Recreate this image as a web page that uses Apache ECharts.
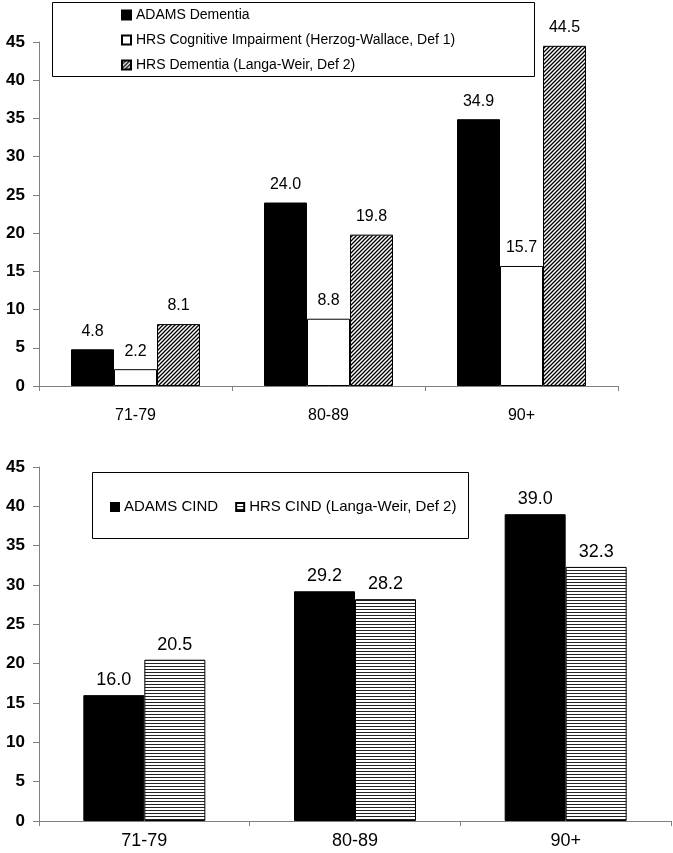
<!DOCTYPE html>
<html><head><meta charset="utf-8">
<script src="https://cdn.jsdelivr.net/npm/echarts@6/dist/echarts.min.js"></script>
<style>html,body{margin:0;padding:0;background:#fff}#c{width:673px;height:853px}</style>
</head><body><div id="c"></div><script>
// ---- data ----
const categories = ['71-79', '80-89', '90+'];
const topNames = ['ADAMS Dementia', 'HRS Cognitive Impairment (Herzog-Wallace, Def 1)', 'HRS Dementia (Langa-Weir, Def 2)'];
const adamsDementia = [4.8, 24.0, 34.9];
const hrsCogImpair = [2.2, 8.8, 15.7];
const hrsDementia = [8.1, 19.8, 44.5];
const bottomNames = ['ADAMS CIND', 'HRS CIND (Langa-Weir, Def 2)'];
const adamsCind = [16.0, 29.2, 39.0];
const hrsCind = [20.5, 28.2, 32.3];
const yMin = 0, yMax = 45, yStep = 5;

// ---- patterns ----
function hatch() {
  const c = document.createElement('canvas'); c.width = 4; c.height = 4;
  const g = c.getContext('2d');
  g.fillStyle = '#fff'; g.fillRect(0, 0, 4, 4);
  g.strokeStyle = '#000'; g.lineWidth = 1.3;
  g.beginPath();
  g.moveTo(-1, 5); g.lineTo(5, -1);
  g.moveTo(-1, 1); g.lineTo(1, -1);
  g.moveTo(3, 5); g.lineTo(5, 3);
  g.stroke();
  return c;
}
function stripes() {
  const c = document.createElement('canvas'); c.width = 4; c.height = 3;
  const g = c.getContext('2d');
  g.fillStyle = '#fff'; g.fillRect(0, 0, 4, 3);
  g.fillStyle = '#222'; g.fillRect(0, 0, 4, 1);
  return c;
}
const hatchFill = { image: hatch(), repeat: 'repeat' };
const stripeFill = { image: stripes(), repeat: 'repeat' };

const FONT = '"Liberation Sans", Arial, sans-serif';
const axisGray = '#808080';

function yAxis(gi) {
  return {
    gridIndex: gi, type: 'value', min: yMin, max: yMax, interval: yStep,
    axisLine: { show: true, lineStyle: { color: axisGray, width: 1 } },
    axisTick: { show: true, length: 6, lineStyle: { color: axisGray } },
    axisLabel: { fontFamily: FONT, fontSize: 17, fontWeight: 'bold', color: '#000', margin: 14 },
    splitLine: { show: false }
  };
}
function xAxis(gi, fs, margin) {
  return {
    gridIndex: gi, type: 'category', data: categories,
    axisLine: { show: true, lineStyle: { color: axisGray, width: 1 } },
    axisTick: { show: true, length: 5, lineStyle: { color: axisGray } },
    axisLabel: { fontFamily: FONT, fontSize: fs, color: '#000', margin: margin }
  };
}
function labelCfg(fs, dist) {
  return { show: true, position: 'top', distance: dist, fontFamily: FONT, fontSize: fs, color: '#000',
    formatter: p => Number(p.value).toFixed(1) };
}

const chart = echarts.init(document.getElementById('c'), null, { renderer: 'canvas' });
chart.setOption({
  animation: false,
  backgroundColor: '#fff',
  grid: [
    { left: 39, right: 55, top: 42, bottom: 467 },
    { left: 39, right: 2, top: 467, bottom: 32 }
  ],
  xAxis: [xAxis(0, 16, 22), xAxis(1, 18, 11)],
  yAxis: [yAxis(0), yAxis(1)],
  graphic: [
    { type: 'rect', z: 5, shape: { x: 52.5, y: 2.5, width: 482, height: 74 },
      style: { fill: '#fff', stroke: '#000', lineWidth: 1 } },
    { type: 'rect', z: 5, shape: { x: 92.5, y: 472.5, width: 376, height: 66 },
      style: { fill: '#fff', stroke: '#000', lineWidth: 1 } }
  ],
  legend: [
    { data: topNames, orient: 'vertical', left: 116, top: 2, z: 10,
      itemWidth: 9, itemHeight: 9, itemGap: 9, icon: 'rect',
      textStyle: { fontFamily: FONT, fontSize: 14, color: '#000', lineHeight: 16 } },
    { data: bottomNames, orient: 'horizontal', left: 105, top: 494, z: 10,
      itemWidth: 8, itemHeight: 8, itemGap: 17, icon: 'rect',
      textStyle: { fontFamily: FONT, fontSize: 15, color: '#000', lineHeight: 16 } }
  ],
  series: [
    { name: topNames[0], type: 'bar', xAxisIndex: 0, yAxisIndex: 0, data: adamsDementia,
      barWidth: 43, barGap: '0%', itemStyle: { color: '#000', borderColor: '#000', borderWidth: 1 },
      label: labelCfg(16, 10) },
    { name: topNames[1], type: 'bar', xAxisIndex: 0, yAxisIndex: 0, data: hrsCogImpair,
      barWidth: 43, barGap: '0%', itemStyle: { color: '#fff', borderColor: '#000', borderWidth: 1 },
      label: labelCfg(16, 10) },
    { name: topNames[2], type: 'bar', xAxisIndex: 0, yAxisIndex: 0, data: hrsDementia,
      barWidth: 43, barGap: '0%', itemStyle: { color: hatchFill, borderColor: '#000', borderWidth: 1 },
      label: labelCfg(16, 10) },
    { name: bottomNames[0], type: 'bar', xAxisIndex: 1, yAxisIndex: 1, data: adamsCind,
      barWidth: 61, barGap: '0%', itemStyle: { color: '#000', borderColor: '#000', borderWidth: 1 },
      label: labelCfg(18, 6) },
    { name: bottomNames[1], type: 'bar', xAxisIndex: 1, yAxisIndex: 1, data: hrsCind,
      barWidth: 61, barGap: '0%', itemStyle: { color: stripeFill, borderColor: '#000', borderWidth: 1 },
      label: labelCfg(18, 6) }
  ]
});
</script></body></html>
